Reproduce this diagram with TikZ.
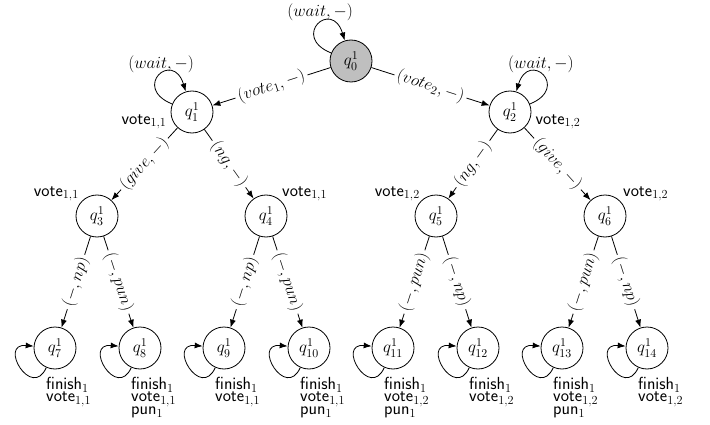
\RequirePackage{fix-cm}
\documentclass[tikz,border=0pt]{standalone}
\usetikzlibrary{arrows.meta,calc}
\newcommand{\blabfont}{\fontsize{17.5}{12.5}\selectfont\sffamily\lineskiplimit=-20pt\relax}
\begin{document}
\begin{tikzpicture}[x=1pt,y=1pt,
  every node/.style={font=\fontsize{17}{20}\selectfont},
  state/.style={circle, draw, line width=0.8pt, minimum size=42pt, inner sep=0pt},
  initstate/.style={state, fill=black!25},
  conn/.style={line width=0.8pt, -{Latex[length=8pt,width=6pt]}},
  elab/.style={sloped, fill=white, inner sep=3pt, midway},
  wlab/.style={inner sep=0pt},
  side/.style={font=\fontsize{17.5}{20}\selectfont\sffamily, inner sep=1pt},
  blab/.style={font=\blabfont, align=left, inner sep=0pt, anchor=north west},
]
\useasboundingbox (0,0) rectangle (710,424);

% states
\node[initstate] (q0) at (351,363) {$q^1_0$};
\node[state] (q1) at (192,312) {$q^1_1$};
\node[state] (q2) at (510,312) {$q^1_2$};
\node[state] (q3) at (97,208) {$q^1_3$};
\node[state] (q4) at (266,208) {$q^1_4$};
\node[state] (q5) at (436,208) {$q^1_5$};
\node[state] (q6) at (605,208) {$q^1_6$};
\node[state] (q7) at (55,76) {$q^1_7$};
\node[state] (q8) at (140,76) {$q^1_8$};
\node[state] (q9) at (224,76) {$q^1_9$};
\node[state] (q10) at (309,76) {$q^1_{10}$};
\node[state] (q11) at (393,76) {$q^1_{11}$};
\node[state] (q12) at (478,76) {$q^1_{12}$};
\node[state] (q13) at (562,76) {$q^1_{13}$};
\node[state] (q14) at (647,76) {$q^1_{14}$};

% side labels
\node[side, anchor=east] (s1) at ([xshift=-3pt,yshift=-10pt]q1.west) {vote$_{1,1}$};
\node[side, anchor=west] (s2) at ([xshift=3pt,yshift=-10pt]q2.east) {vote$_{1,2}$};
\node[side, anchor=east] (s3) at ([xshift=-17pt,yshift=22pt]q3.center) {vote$_{1,1}$};
\node[side, anchor=west] (s4) at ([xshift=15pt,yshift=22pt]q4.center) {vote$_{1,1}$};
\node[side, anchor=east] (s5) at ([xshift=-15pt,yshift=22pt]q5.center) {vote$_{1,2}$};
\node[side, anchor=west] (s6) at ([xshift=17pt,yshift=22pt]q6.center) {vote$_{1,2}$};

% bottom labels
\node[blab] (b7) at ([xshift=-9pt,yshift=-29pt]q7.center) {finish$_1$\\vote$_{1,1}$};
\node[blab] (b8) at ([xshift=-9pt,yshift=-29pt]q8.center) {finish$_1$\\vote$_{1,1}$\\pun$_1$};
\node[blab] (b9) at ([xshift=-9pt,yshift=-29pt]q9.center) {finish$_1$\\vote$_{1,1}$};
\node[blab] (b10) at ([xshift=-9pt,yshift=-29pt]q10.center) {finish$_1$\\vote$_{1,1}$\\pun$_1$};
\node[blab] (b11) at ([xshift=-9pt,yshift=-29pt]q11.center) {finish$_1$\\vote$_{1,2}$\\pun$_1$};
\node[blab] (b12) at ([xshift=-9pt,yshift=-29pt]q12.center) {finish$_1$\\vote$_{1,2}$};
\node[blab] (b13) at ([xshift=-9pt,yshift=-29pt]q13.center) {finish$_1$\\vote$_{1,2}$\\pun$_1$};
\node[blab] (b14) at ([xshift=-9pt,yshift=-29pt]q14.center) {finish$_1$\\vote$_{1,2}$};

% top loops
\draw[conn] (q0.158) .. controls +(158:44) and +(107:44) .. (q0.107);
\node[wlab, anchor=south east] (w0) at ([xshift=2pt,yshift=40pt]q0.center) {$(wait,-)$};
\draw[conn] (q1.158) .. controls +(158:44) and +(107:44) .. (q1.107);
\node[wlab, anchor=south east] (w1) at ([xshift=2pt,yshift=39pt]q1.center) {$(wait,-)$};
\draw[conn] (q2.22) .. controls +(22:44) and +(73:44) .. (q2.73);
\node[wlab, anchor=south west] (w2) at ([xshift=-2pt,yshift=39pt]q2.center) {$(wait,-)$};

% bottom loops
\foreach \n in {q7,q8,q9,q10,q11,q12,q13,q14}{
  \draw[conn] (\n.246) .. controls +(246:36) and +(175:36) .. (\n.175);
}

% tree edges
\draw[conn] (q0) -- node[elab] {$(vote_1,-)$} (q1);
\draw[conn] (q0) -- node[elab] {$(vote_2,-)$} (q2);
\draw[conn] (q1) -- node[elab] {$(give,-)$} (q3);
\draw[conn] (q1) -- node[elab] {$(ng,-)$} (q4);
\draw[conn] (q2) -- node[elab] {$(ng,-)$} (q5);
\draw[conn] (q2) -- node[elab] {$(give,-)$} (q6);
\draw[conn] (q3) -- node[elab] {$(-,np)$} (q7);
\draw[conn] (q3) -- node[elab] {$(-,pun)$} (q8);
\draw[conn] (q4) -- node[elab] {$(-,np)$} (q9);
\draw[conn] (q4) -- node[elab] {$(-,pun)$} (q10);
\draw[conn] (q5) -- node[elab] {$(-,pun)$} (q11);
\draw[conn] (q5) -- node[elab] {$(-,np)$} (q12);
\draw[conn] (q6) -- node[elab] {$(-,pun)$} (q13);
\draw[conn] (q6) -- node[elab] {$(-,np)$} (q14);
\end{tikzpicture}
\end{document}
